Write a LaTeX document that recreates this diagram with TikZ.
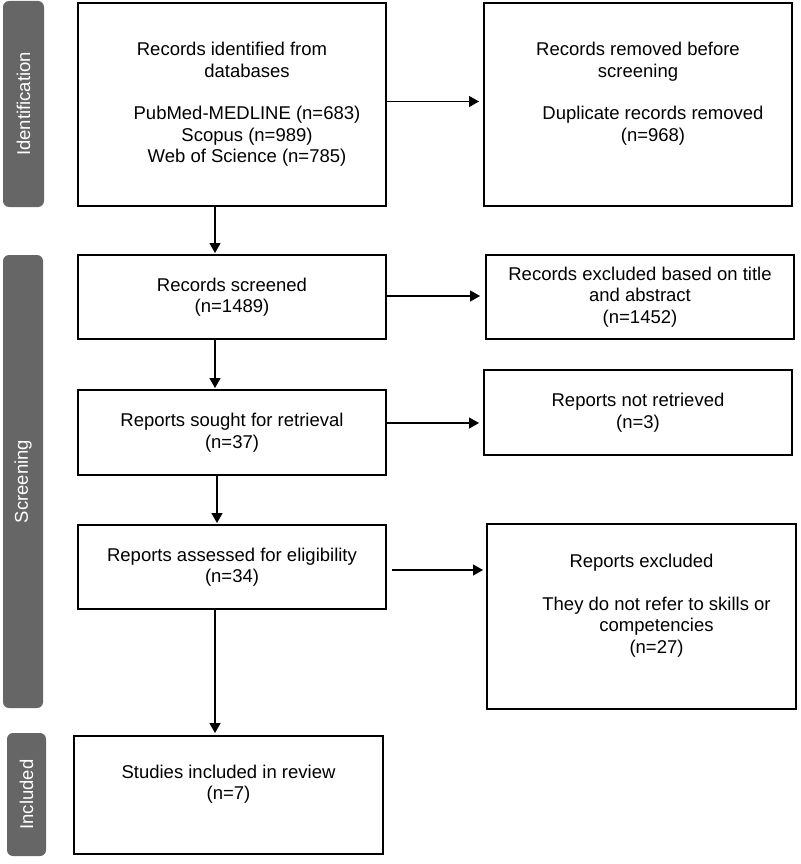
\documentclass[tikz,border=0pt]{standalone}
\usepackage{fontspec}
\setmainfont{Liberation Sans}
\usetikzlibrary{arrows.meta}
\definecolor{phasegray}{HTML}{666666}
% extra depth under the last line, lifts the text a little in its box
\newcommand{\padbelow}{\rule[-25pt]{0pt}{1pt}}
% pushes a centred line a little to the right
\newcommand{\shiftln}{\hspace*{30pt}}

\tikzset{
  flowbox/.style={draw, line width=2pt, minimum width=308pt, inner sep=0pt,
    align=center, font=\fontsize{18.5}{21.5}\selectfont},
  phase/.style={fill=phasegray, rounded corners=6pt, text=white, inner sep=0pt,
    rotate=90, font=\fontsize{18.5}{21.5}\selectfont},
  arr/.style={-{Triangle[length=10pt,width=11pt]}, line width=1.3pt},
}

\begin{document}
\begin{tikzpicture}[x=1pt,y=1pt]
  \useasboundingbox (0,0) rectangle (800,-864);

  % phases
  \node[phase, minimum width=206pt, minimum height=41pt] (idph) at (23.5,-104) {Identification};
  \node[phase, minimum width=453pt, minimum height=40pt] (scph) at (23,-481.5) {Screening};
  \node[phase, minimum width=123pt, minimum height=39pt] (inph) at (26.5,-794.5) {Included};

  % main column
  \node[flowbox, minimum height=203pt] (ident) at (232,-104.5)
    {Records identified from\\\shiftln databases\\[21pt]\shiftln PubMed-MEDLINE (n=683)\\\shiftln Scopus (n=989)\\\shiftln Web of Science (n=785)};
  \node[flowbox, minimum height=84pt] (screened) at (232,-297)
    {Records screened\\(n=1489)};
  \node[flowbox, minimum height=85pt] (sought) at (232,-432.5)
    {Reports sought for retrieval\\(n=37)};
  \node[flowbox, minimum height=84pt] (assessed) at (232,-567)
    {Reports assessed for eligibility\\(n=34)};
  \node[flowbox, minimum width=309pt, minimum height=118pt] (incl) at (228.5,-795)
    {Studies included in review\\(n=7)\padbelow};

  % side column
  \node[flowbox, minimum height=203pt] (removed) at (638,-104.5)
    {Records removed before\\screening\\[21pt]\shiftln Duplicate records removed\\\shiftln (n=968)\padbelow};
  \node[flowbox, minimum height=84pt] (excl) at (640,-297)
    {Records excluded based on title\\and abstract\\(n=1452)};
  \node[flowbox, minimum height=85pt] (notret) at (638,-412.5)
    {Reports not retrieved\\(n=3)};
  \node[flowbox, minimum width=309pt, minimum height=185pt] (repexcl) at (641.5,-616.5)
    {Reports excluded\\[21pt]\shiftln They do not refer to skills or\\\shiftln competencies\\\shiftln (n=27)\padbelow};

  % down arrows
  \draw[arr, shorten >=1pt] ([xshift=-17pt]ident.south) -- ([xshift=-17pt]ident.south |- screened.north);
  \draw[arr, shorten >=1pt] ([xshift=-17pt]screened.south) -- ([xshift=-17pt]screened.south |- sought.north);
  \draw[arr, shorten >=1pt] ([xshift=-15pt]sought.south) -- ([xshift=-15pt]sought.south |- assessed.north);
  \draw[arr, shorten >=2pt] ([xshift=-17pt]assessed.south) -- ([xshift=-17pt]assessed.south |- incl.north);

  % side arrows
  \draw[arr, shorten >=4pt] ([yshift=3pt]ident.east) -- ([yshift=3pt]ident.east -| removed.west);
  \draw[arr, shorten >=5pt] ([yshift=1pt]screened.east) -- ([yshift=1pt]screened.east -| excl.west);
  \draw[arr, shorten >=4pt] ([yshift=9.5pt]sought.east) -- ([yshift=9.5pt]sought.east -| notret.west);
  \draw[arr, shorten <=5pt, shorten >=3pt] ([yshift=-3pt]assessed.east) -- ([yshift=-3pt]assessed.east -| repexcl.west);
\end{tikzpicture}
\end{document}
